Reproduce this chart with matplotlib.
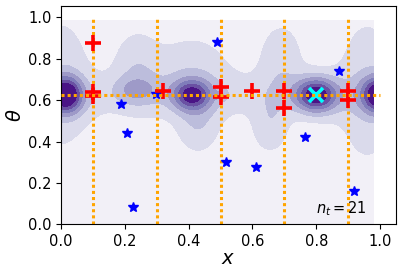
import numpy as np
import matplotlib
matplotlib.use("Agg")
import matplotlib.pyplot as plt

# ---- data ----
plus_x = [0.10, 0.10, 0.10, 0.32, 0.50, 0.50, 0.60, 0.70, 0.70, 0.90, 0.90]
plus_y = [0.877, 0.639, 0.62, 0.645, 0.662, 0.616, 0.645, 0.645, 0.562, 0.645, 0.60]
star_x = [0.188, 0.206, 0.224, 0.297, 0.489, 0.517, 0.612, 0.766, 0.870, 0.918]
star_y = [0.580, 0.444, 0.082, 0.628, 0.879, 0.300, 0.275, 0.420, 0.740, 0.160]
best_x = [0.80]
best_y = [0.625]
vlines_x = [0.1, 0.3, 0.5, 0.7, 0.9]
hline_y = 0.625
n_t = 21

# density field: centre x, centre y, width x, width y, amplitude of each blob
blob_cx = [0.015, 0.41, 0.80, 1.00, 0.235, 0.50, 0.0, 0.235, 0.41, 0.43, 0.69, 0.655, 0.96, 0.5]
blob_cy = [0.625, 0.625, 0.625, 0.625, 0.65, 0.625, 0.675, 0.75, 0.72, 0.47, 0.78, 0.47, 0.645, 0.625]
blob_sx = [0.035, 0.04, 0.045, 0.037, 0.047, 0.015, 0.07, 0.05, 0.09, 0.045, 0.05, 0.04, 0.07, 50.0]
blob_sy = [0.06, 0.05, 0.058, 0.06, 0.042, 0.015, 0.24, 0.13, 0.14, 0.09, 0.14, 0.09, 0.26, 0.075]
blob_a = [0.87, 0.68, 0.87, 0.87, 0.2, 0.15, 0.2, 0.2, 0.2, 0.2, 0.2, 0.2, 0.2, 0.13]

levels = [0, 0.1, 0.25, 0.4, 0.55, 0.7, 0.85, 1.5]
band_colors = ["#f2f0f7", "#dadaeb", "#bcbddc", "#9e9ac8", "#807dba", "#6a51a3", "#4a1486"]

gx = np.linspace(0, 0.98, 150)
gy = np.linspace(0, 0.985, 150)
GX, GY = np.meshgrid(gx, gy)
Z = np.zeros_like(GX)
for cx, cy, sx, sy, a in zip(blob_cx, blob_cy, blob_sx, blob_sy, blob_a):
    Z += a * np.exp(-0.5 * ((GX - cx) / sx) ** 2 - 0.5 * ((GY - cy) / sy) ** 2)

fig = plt.figure(figsize=(4.02, 2.76), dpi=100)
ax = fig.add_axes([0.152, 0.187, 0.833, 0.791])
ax.contourf(GX, GY, Z, levels=levels, colors=band_colors, zorder=1)

dots = (0, (1, 1))
for vx in vlines_x:
    ax.plot([vx, vx], [0, 1], color="orange", lw=2.2, linestyle=dots, zorder=2)

ax.plot(star_x, star_y, linestyle="none", marker="*", color="blue", markersize=7, zorder=3)
ax.plot(plus_x, plus_y, linestyle="none", marker="+", color="red", markersize=11, mew=2.6, zorder=3)
ax.plot(best_x, best_y, linestyle="none", marker="x", color="cyan", markersize=10, mew=2.6, zorder=4)

ax.plot([0, 1], [hline_y, hline_y], color="orange", lw=2.2, linestyle=dots, zorder=5)

ax.text(0.80, 0.074, r"$n_t = %d$" % n_t, fontsize=10.5, va="center", ha="left")

ax.set_xlim(0, 1.05)
ax.set_ylim(0, 1.055)
ax.set_xticks([0, 0.2, 0.4, 0.6, 0.8, 1.0])
ax.set_yticks([0, 0.2, 0.4, 0.6, 0.8, 1.0])
ax.tick_params(labelsize=10.5)
ax.set_xlabel(r"$x$", fontsize=14, labelpad=0)
ax.set_ylabel(r"$\theta$", fontsize=14, labelpad=2)

fig.savefig("out.png", dpi=100)
